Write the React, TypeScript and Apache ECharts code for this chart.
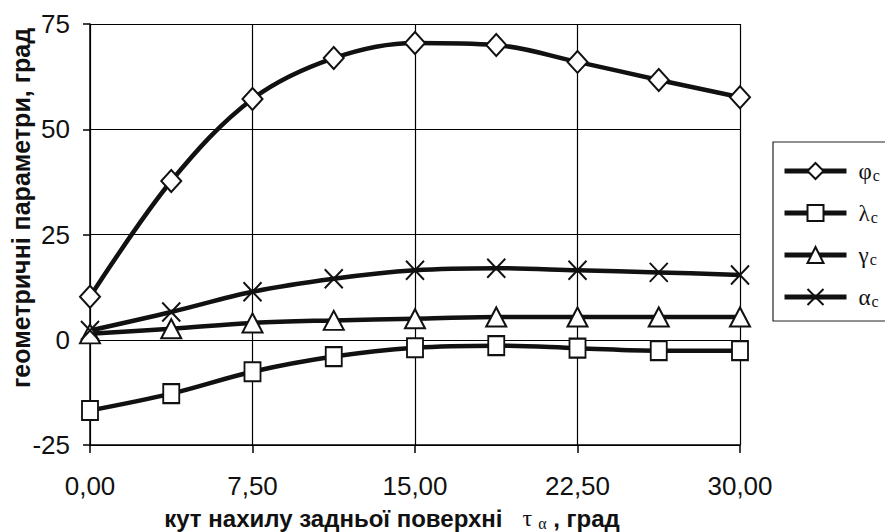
import React, { useEffect, useRef } from "react";
import * as echarts from "echarts";

const xValues = [0, 3.75, 7.5, 11.25, 15, 18.75, 22.5, 26.25, 30];
const phiC = [10.2, 37.7, 57.2, 66.9, 70.5, 70.0, 66.0, 61.7, 57.6];
const lambdaC = [-16.8, -12.8, -7.6, -4.0, -1.9, -1.4, -2.0, -2.6, -2.6];
const gammaC = [1.4, 2.6, 4.0, 4.6, 5.0, 5.4, 5.4, 5.4, 5.4];
const alphaC = [2.2, 6.6, 11.4, 14.5, 16.5, 17.0, 16.5, 16.0, 15.4];

const seriesNames = ["phi", "lambda", "gamma", "alpha"];
const legendLetters: Record<string, string> = { phi: "φ", lambda: "λ", gamma: "γ", alpha: "α" };
const yTicks = [-25, 0, 25, 50, 75];
const xTitle = "кут нахилу задньої поверхні";
const yTitle = "геометричні параметри, град";

const CROSS = "path://M0,0L10,10M10,0L0,10";
const SANS = "Liberation Sans, Arial, sans-serif";
const SERIF = "Liberation Serif, Times New Roman, serif";

export default function App() {
  const ref = useRef<HTMLDivElement>(null);
  useEffect(() => {
    if (!ref.current) return;
    const chart = echarts.init(ref.current, undefined, { renderer: "svg" });
    const pair = (vals: number[]) => xValues.map((x, i) => [x, vals[i]]);
    const mk = (name: string, vals: number[], symbol: string, size: number[]) => ({
      name,
      type: "line",
      data: pair(vals),
      smooth: 0.35,
      symbol,
      symbolSize: size,
      showAllSymbol: true,
      lineStyle: { color: "#111", width: 4.5 },
      itemStyle: { color: "#fff", borderColor: "#111", borderWidth: 2 },
      z: 3,
    });
    chart.setOption({
      animation: false,
      backgroundColor: "#fff",
      textStyle: { fontFamily: SANS },
      grid: { left: 90, right: 145, top: 24, bottom: 87, containLabel: false },
      xAxis: {
        type: "value",
        min: 0,
        max: 30,
        interval: 7.5,
        axisLine: { show: true, onZero: false, lineStyle: { color: "#000", width: 1.5 } },
        axisTick: { show: true, inside: false, length: 8, lineStyle: { color: "#000", width: 1.5 } },
        splitLine: { show: true, lineStyle: { color: "#000", width: 1.2 } },
        axisLabel: {
          fontSize: 26,
          color: "#111",
          margin: 28,
          formatter: (v: number) => v.toFixed(2).replace(".", ","),
        },
      },
      yAxis: {
        type: "value",
        min: yTicks[0],
        max: yTicks[yTicks.length - 1],
        interval: 25,
        axisLine: { show: true, onZero: false, lineStyle: { color: "#000", width: 1.5 } },
        axisTick: { show: true, inside: false, length: 7, lineStyle: { color: "#000", width: 1.5 } },
        splitLine: { show: true, lineStyle: { color: "#000", width: 1.2 } },
        axisLabel: { fontSize: 26, color: "#111", margin: 20 },
      },
      graphic: [
        {
          type: "text",
          x: 392,
          y: 518,
          style: {
            text: `{b|${xTitle}}{sp|   }{tau|τ}{sub|α}{b| , град}`,
            align: "center",
            verticalAlign: "middle",
            rich: {
              b: { fontFamily: SANS, fontSize: 24, fontWeight: "bold", fill: "#111" },
              sp: { fontFamily: SANS, fontSize: 24 },
              tau: { fontFamily: SERIF, fontSize: 24, fill: "#111" },
              sub: { fontFamily: SERIF, fontSize: 16, fill: "#111", padding: [10, 0, 0, 6] },
            },
          },
        },
        {
          type: "text",
          x: 21,
          y: 208,
          rotation: Math.PI / 2,
          style: {
            text: yTitle,
            align: "center",
            verticalAlign: "middle",
            fontFamily: SANS,
            fontSize: 25,
            fontWeight: "bold",
            fill: "#111",
          },
        },
      ],
      legend: {
        orient: "vertical",
        left: 773,
        top: 142,
        padding: [17, 60, 12, 9],
        itemWidth: 62,
        itemHeight: 20,
        itemGap: 18,
        borderColor: "#222",
        borderWidth: 1.2,
        backgroundColor: "#fff",
        lineStyle: { width: 5, color: "#111" },
        data: seriesNames,
        formatter: (n: string) => `{g|${legendLetters[n]}}{s|c}`,
        textStyle: {
          padding: [0, 0, 0, 7],
          rich: {
            g: { fontFamily: SERIF, fontSize: 23, color: "#111", lineHeight: 20 },
            s: { fontFamily: SERIF, fontSize: 16, color: "#111", lineHeight: 20, padding: [8, 0, 0, 1] },
          },
        },
      },
      series: [
        mk("phi", phiC, "diamond", [20, 22]),
        mk("lambda", lambdaC, "rect", [16, 19]),
        mk("gamma", gammaC, "triangle", [20, 19]),
        mk("alpha", alphaC, CROSS, [18, 19]),
      ],
    });
    return () => chart.dispose();
  }, []);
  return <div ref={ref} style={{ width: 885, height: 532, position: "absolute", left: 0, top: 0 }} />;
}
